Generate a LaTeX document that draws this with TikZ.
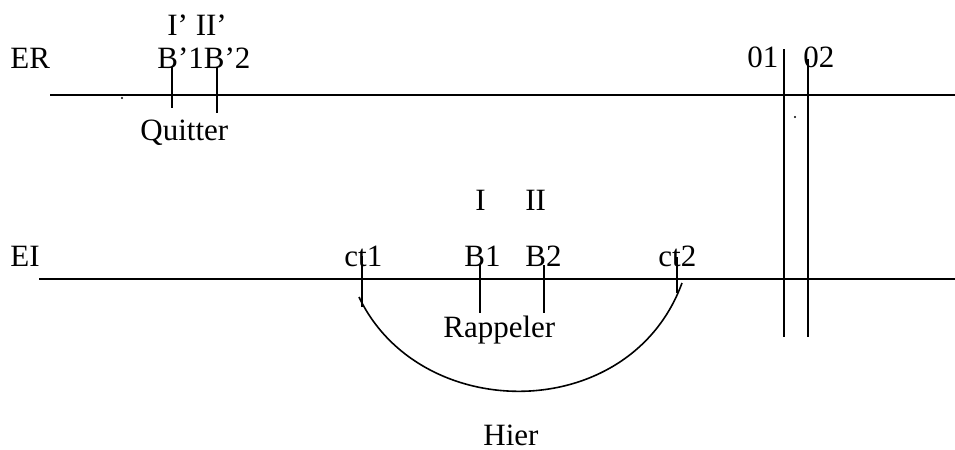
\documentclass[tikz,border=0pt]{standalone}
\usepackage{fontspec}
\setmainfont{Liberation Serif}
\begin{document}
\begin{tikzpicture}
        [x=0.5pt,y=-0.5pt,
         testo/.style={anchor=base west, inner sep=0pt, font=\fontsize{15.5}{18}\selectfont},
         asse/.style={line width=1pt},
         tacca/.style={line width=1pt}]
        \useasboundingbox (0,0) rectangle (955,450);
            %disegno asse ER
            \draw[asse] (50,95)--++ (905,0);
            \node[testo] (er) at (10,68) {ER};
            \node[testo] (apici) at (167,35) {I’ II’};
            \node[testo] (bprimo) at (157,68) {B’1B’2};
            \node[testo] (quitter) at (140,140) {Quitter};
            %tacche B'1 e B'2
            \draw[tacca] (172,67)--++ (0,41);
            \draw[tacca] (217,67)--++ (0,46);
            \fill (122,98) circle (1.1);
            %disegno asse EI
            \draw[asse] (39,279)--++ (916,0);
            \node[testo] (ei) at (10,266) {EI};
            \node[testo] (uno) at (475,210) {I};
            \node[testo] (due) at (525,210) {II};
            \node[testo] (ctuno) at (344,266) {ct1};
            \node[testo] (buno) at (464,266) {B1};
            \node[testo] (bdue) at (525,266) {B2};
            \node[testo] (ctdue) at (658,266) {ct2};
            \node[testo] (rappeler) at (443,337) {Rappeler};
            %tacche su EI
            \draw[tacca] (362,256)--++ (0,51);
            \draw[tacca] (480,265)--++ (0,48);
            \draw[tacca] (544,265)--++ (0,48);
            \draw[tacca] (677,257)--++ (0,36);
            %arco di ieri
            \draw[line width=0.8pt] (359,297).. controls (420,425) and (630,425).. (682,283);
            \node[testo] (hier) at (483,445) {Hier};
            %verticali 01 e 02
            \draw[asse] (784,49)--++ (0,288);
            \draw[asse] (808,59)--++ (0,278);
            \node[testo] (ozuno) at (747,67) {01};
            \node[testo] (ozdue) at (803,67) {02};
            \fill (795,117) circle (1.1);
    \end{tikzpicture}
\end{document}
